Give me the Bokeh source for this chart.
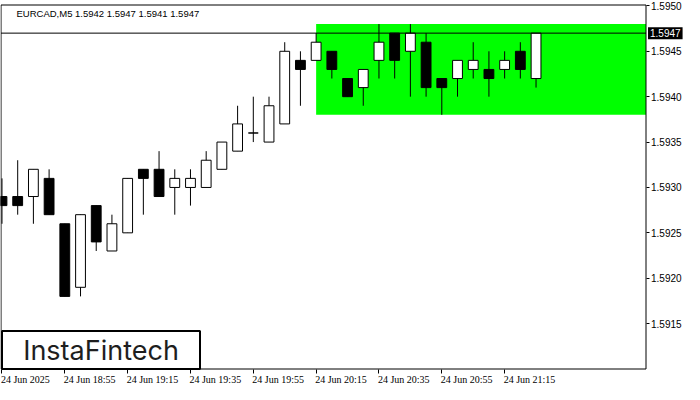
from bokeh.plotting import figure
from bokeh.models import (ColumnDataSource, FixedTicker, PrintfTickFormatter,
                          BoxAnnotation, Label, LabelSet, Range1d, LinearAxis)
from bokeh.embed import file_html
from bokeh.resources import INLINE

# ---------------- data ----------------
header_text = "EURCAD,M5  1.5942 1.5947 1.5941 1.5947"
brand_text = "InstaFintech"

bar_index = list(range(35))
open_ = [1.5929, 1.5929, 1.5929, 1.5931, 1.5926, 1.5919, 1.5928, 1.5923, 1.5925, 1.5932,
         1.5932, 1.5930, 1.5930, 1.5930, 1.5932, 1.5934, 1.5936, 1.5935, 1.5937, 1.5944,
         1.5944, 1.5945, 1.5942, 1.5941, 1.5944, 1.5947, 1.5945, 1.5946, 1.5942, 1.5942,
         1.5943, 1.5943, 1.5943, 1.5945, 1.5942]
high = [1.5931, 1.5933, 1.5932, 1.5932, 1.5926, 1.5927, 1.5928, 1.5927, 1.5931, 1.5932,
        1.5934, 1.5932, 1.5932, 1.5934, 1.5935, 1.5939, 1.5940, 1.5940, 1.5946, 1.5945,
        1.5947, 1.5945, 1.5942, 1.5943, 1.5948, 1.5947, 1.5948, 1.5947, 1.5942, 1.5944,
        1.5946, 1.5945, 1.5945, 1.5946, 1.5947]
low = [1.5926, 1.5927, 1.5926, 1.5927, 1.5918, 1.5918, 1.5923, 1.5923, 1.5925, 1.5927,
       1.5929, 1.5927, 1.5928, 1.5930, 1.5932, 1.5934, 1.5935, 1.5935, 1.5937, 1.5939,
       1.5944, 1.5942, 1.5940, 1.5939, 1.5942, 1.5942, 1.5940, 1.5940, 1.5938, 1.5940,
       1.5942, 1.5940, 1.5942, 1.5942, 1.5941]
close = [1.5928, 1.5928, 1.5932, 1.5927, 1.5918, 1.5927, 1.5924, 1.5926, 1.5931, 1.5931,
         1.5929, 1.5931, 1.5931, 1.5933, 1.5935, 1.5937, 1.5936, 1.5939, 1.5945, 1.5943,
         1.5946, 1.5943, 1.5940, 1.5943, 1.5946, 1.5944, 1.5947, 1.5941, 1.5941, 1.5944,
         1.5944, 1.5942, 1.5944, 1.5943, 1.5947]

last_price = 1.5947
last_price_text = "1.5947"
pattern_start_index = 20
pattern_top = 1.5948
pattern_bottom = 1.5938

x_tick_index = [0, 4, 8, 12, 16, 20, 24, 28, 32]
x_tick_labels = ["24 Jun 2025", "24 Jun 18:55", "24 Jun 19:15", "24 Jun 19:35",
                 "24 Jun 19:55", "24 Jun 20:15", "24 Jun 20:35", "24 Jun 20:55",
                 "24 Jun 21:15"]
y_ticks = [1.5915, 1.5920, 1.5925, 1.5930, 1.5935, 1.5940, 1.5945, 1.5950]

# chart window (data extents of the bordered price area)
chart_x0, chart_x1 = -0.0625, 41.0
chart_y0, chart_y1 = 1.5910, 1.59501

# ---------------- layout (pixels) ----------------
W, H = 684, 384
box_left_px, box_right_px = 0.5, 645.5
box_top_px, box_bottom_px = 4.5, 368.5

sx = (box_right_px - box_left_px) / (chart_x1 - chart_x0)
sy = (box_bottom_px - box_top_px) / (chart_y1 - chart_y0)
x_start = chart_x0 - box_left_px / sx
x_end = x_start + W / sx
y_end = chart_y1 + box_top_px / sy
y_start = y_end - H / sy

font = "Liberation Sans"

p = figure(width=W, height=H, output_backend="svg", toolbar_location=None,
           x_range=Range1d(x_start, x_end), y_range=Range1d(y_start, y_end),
           x_axis_location=None, y_axis_location=None,
           min_border=0, min_border_left=0, min_border_right=0,
           min_border_top=0, min_border_bottom=0)
p.grid.visible = False
p.background_fill_color = "white"
p.border_fill_color = "white"
p.outline_line_color = None

# pattern rectangle
p.add_layout(BoxAnnotation(left=pattern_start_index, right=chart_x1,
                           bottom=pattern_bottom, top=pattern_top,
                           fill_color="#00ff00", fill_alpha=1.0, line_alpha=0,
                           level="underlay"))

# candles
src = ColumnDataSource(dict(
    x=bar_index, open=open_, high=high, low=low, close=close,
    top=[max(o, c) for o, c in zip(open_, close)],
    bottom=[min(o, c) for o, c in zip(open_, close)],
    fill=["black" if c < o else "white" for o, c in zip(open_, close)],
))
p.segment(x0="x", y0="high", x1="x", y1="low", source=src, line_color="black", line_width=1)
p.vbar(x="x", width=0.625, top="top", bottom="bottom", source=src,
       fill_color="fill", line_color="black", line_width=1)

# last price line
p.segment(x0=[chart_x0], y0=[last_price], x1=[chart_x1], y1=[last_price],
          line_color="black", line_width=1)

# chart border
p.add_layout(BoxAnnotation(left=chart_x0, right=chart_x1, bottom=chart_y0, top=chart_y1,
                           fill_alpha=0, line_color="black", line_alpha=1.0, line_width=1,
                           level="overlay"))

# right price axis
ya = LinearAxis(fixed_location=chart_x1, bounds=(chart_y0, chart_y1))
ya.ticker = FixedTicker(ticks=y_ticks)
ya.formatter = PrintfTickFormatter(format="%.4f")
ya.major_tick_in = 0
ya.major_tick_out = 3
ya.minor_tick_line_color = None
ya.axis_line_color = None
ya.major_tick_line_color = "black"
ya.major_label_standoff = 2
ya.major_label_text_font = font
ya.major_label_text_font_size = "10px"
ya.major_label_text_color = "black"
p.add_layout(ya, "right")

# bottom time axis: tick marks only
xa = LinearAxis(fixed_location=chart_y0, bounds=(chart_x0, chart_x1))
xa.ticker = FixedTicker(ticks=x_tick_index)
xa.major_tick_in = 0
xa.major_tick_out = 4
xa.minor_tick_line_color = None
xa.axis_line_color = None
xa.major_tick_line_color = "black"
xa.major_label_text_color = None
p.add_layout(xa, "below")

# time labels, left aligned at their ticks
label_y = chart_y0 - 5.0 / sy
tsrc = ColumnDataSource(dict(x=x_tick_index, label=x_tick_labels))
p.add_layout(LabelSet(x="x", y=label_y, text="label", source=tsrc,
                      x_offset=-1, text_font=font, text_font_size="10px", text_color="black",
                      text_baseline="top", text_align="left"))

# header
p.add_layout(Label(x=16, x_units="screen", y=chart_y1 - 2.5 / sy, text=header_text,
                   text_font=font, text_font_size="9.5px", text_color="black",
                   text_baseline="top", text_align="left"))

# last price tag on the axis
p.add_layout(Label(x=chart_x1, y=last_price, x_offset=2, text=last_price_text,
                   text_font=font, text_font_size="10px", text_color="white",
                   background_fill_color="black", background_fill_alpha=1.0,
                   text_baseline="middle", text_align="left", padding=2))

# brand box
brand_top = chart_y0 + 38 / sy
p.add_layout(BoxAnnotation(left=chart_x0 + 1 / sx, right=chart_x0 + 199 / sx,
                           bottom=chart_y0, top=brand_top,
                           fill_color="white", fill_alpha=1.0,
                           line_color="black", line_alpha=1.0, line_width=2,
                           level="overlay"))
p.add_layout(Label(x=chart_x0 + 100 / sx, y=(chart_y0 + brand_top) / 2, text=brand_text,
                   text_font="Inter", text_font_size="27px", text_color="#1e1e1e",
                   text_align="center", text_baseline="middle", level="overlay"))

open("out.html", "w").write(file_html(p, INLINE))
